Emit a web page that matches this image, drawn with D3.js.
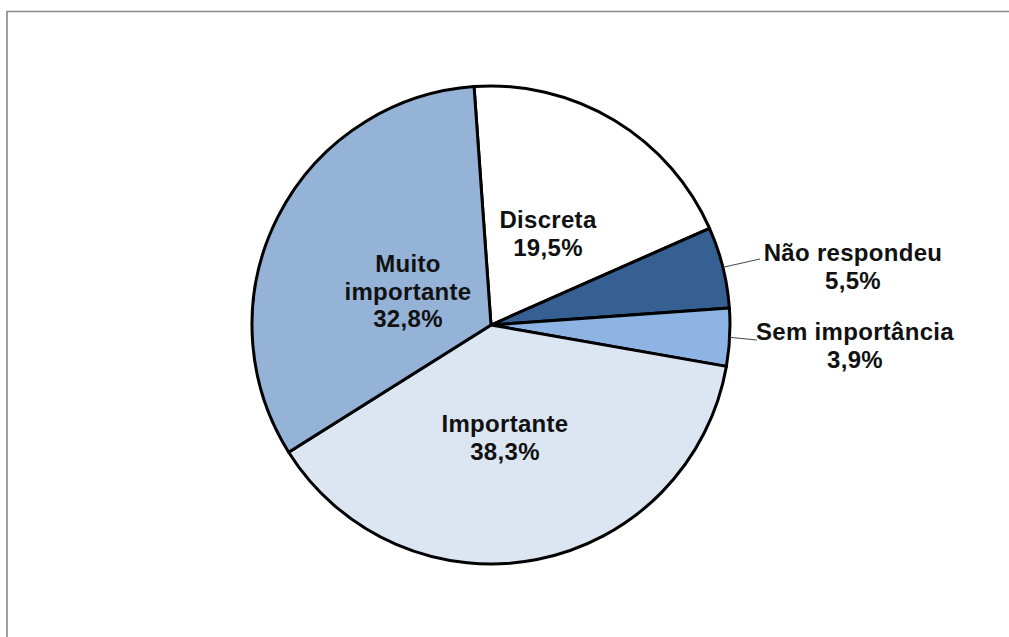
<!DOCTYPE html>
<html>
<head>
<meta charset="utf-8">
<script src="https://cdn.jsdelivr.net/npm/d3@7"></script>
<style>
  html, body { margin: 0; padding: 0; background: #fff; }
  svg { display: block; }
  text { font-family: "Liberation Sans", Arial, sans-serif; font-weight: bold; fill: #111; }
</style>
</head>
<body>
<svg id="chart" width="1009" height="637"></svg>
<script>
// Slices, in clockwise order from the top
const categories = ["Discreta", "Não respondeu", "Sem importância", "Importante", "Muito importante"];
const values = [19.5, 5.5, 3.9, 38.3, 32.8];
const labels = ["19,5%", "5,5%", "3,9%", "38,3%", "32,8%"];
const colors = ["#ffffff", "#376092", "#8eb4e3", "#dce6f2", "#95b3d7"];

const svg = d3.select("#chart");
const W = 1009, H = 637;

// Chart area frame (top and left edges visible)
svg.append("path")
  .attr("d", `M7,${H} L7,11.5 L${W},11.5`)
  .attr("fill", "none")
  .attr("stroke", "#888")
  .attr("stroke-width", 1.6);

const cx = 491, cy = 325, R = 239;
const startAngle = -0.071;

const pie = d3.pie().sort(null).value(d => d.v)
  .startAngle(startAngle).endAngle(startAngle + 2 * Math.PI);
const data = categories.map((c, i) => ({ c, v: values[i], l: labels[i], col: colors[i] }));
const arcs = pie(data);
const arc = d3.arc().innerRadius(0).outerRadius(R);

const g = svg.append("g").attr("transform", `translate(${cx},${cy})`);
g.selectAll("path.slice").data(arcs).enter().append("path")
  .attr("class", "slice")
  .attr("d", arc)
  .attr("fill", d => d.data.col)
  .attr("stroke", "#000")
  .attr("stroke-width", 3)
  .attr("stroke-linejoin", "round");

// Label positions (relative to centre) and leader-line ends for the thin slices
const labelPos = {
  "Discreta": { x: 57, y: -97, lines: ["Discreta"] },
  "Não respondeu": { x: 362, y: -64, lines: ["Não respondeu"], leader: [269, -66] },
  "Sem importância": { x: 364, y: 15, lines: ["Sem importância"], leader: [266, 15] },
  "Importante": { x: 14, y: 107, lines: ["Importante"] },
  "Muito importante": { x: -83, y: -53, lines: ["Muito", "importante"] }
};
const lineH = 27.5;

arcs.forEach(a => {
  const p = labelPos[a.data.c];
  const rows = p.lines.concat([a.data.l]);
  const t = g.append("text")
    .attr("text-anchor", "middle")
    .attr("font-size", 24)
    .attr("letter-spacing", 0.3);
  rows.forEach((r, i) => {
    t.append("tspan").attr("x", p.x).attr("y", p.y + i * lineH).text(r);
  });
  if (p.leader) {
    const mid = (a.startAngle + a.endAngle) / 2;
    const ex = Math.sin(mid) * R, ey = -Math.cos(mid) * R;
    g.append("path")
      .attr("d", `M${ex},${ey} L${p.leader[0]},${p.leader[1]}`)
      .attr("stroke", "#444")
      .attr("stroke-width", 1)
      .attr("fill", "none");
  }
});
</script>
</body>
</html>
